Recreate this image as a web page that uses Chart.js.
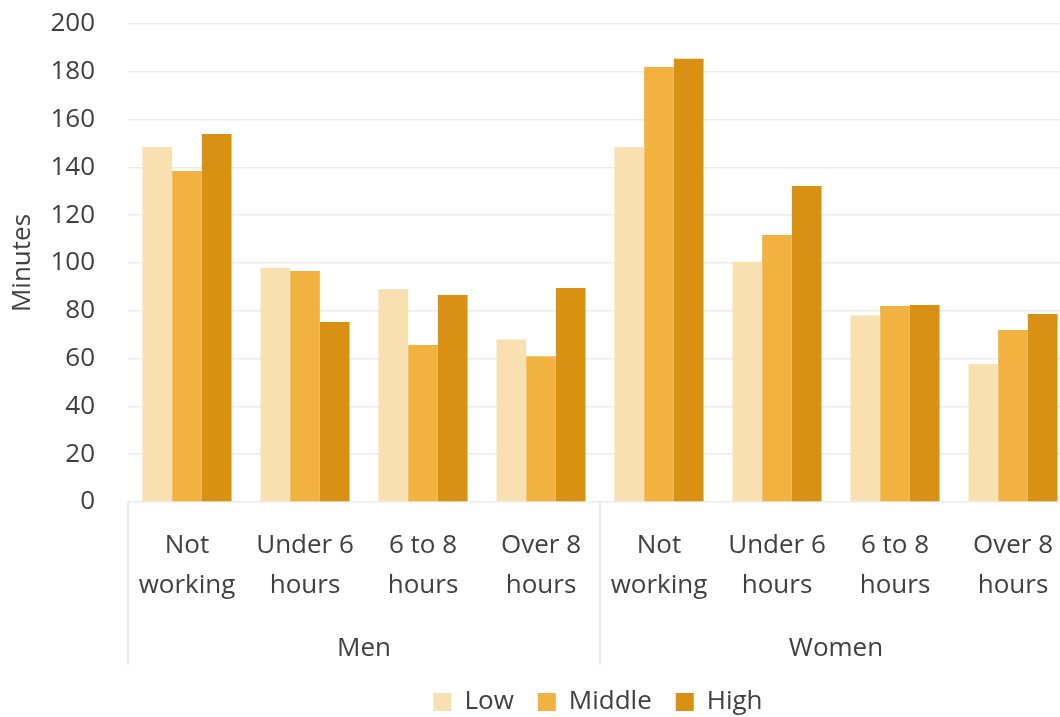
<!DOCTYPE html>
<html>
<head>
<meta charset="utf-8">
<script src="https://cdn.jsdelivr.net/npm/chart.js@4"></script>
<style>
  html, body { margin: 0; padding: 0; background: #fff; overflow: hidden; width: 1060px; height: 717px; }
  #wrap { position: absolute; left: 0; top: 0; }
</style>
</head>
<body>
<div id="wrap"><canvas id="chart" width="1196" height="725"></canvas></div>
<script>
// Chart data
const categories = [
    ['Not', 'working'], ['Under 6', 'hours'], ['6 to 8', 'hours'], ['Over 8', 'hours'],
    ['Not', 'working'], ['Under 6', 'hours'], ['6 to 8', 'hours'], ['Over 8', 'hours']
];
const groups = ['Men', 'Women'];
const seriesNames = ['Low', 'Middle', 'High'];
const low = [148.5, 98, 89, 68, 148.5, 100.5, 78, 57.7];
const middle = [138.5, 96.7, 65.7, 61, 182, 111.7, 82, 72];
const high = [154, 75.3, 86.6, 89.5, 185.5, 132.2, 82.4, 78.7];
const yTicks = [0, 20, 40, 60, 80, 100, 120, 140, 160, 180, 200];

const textColor = '#404040';
const fontSize = 26;
Chart.defaults.font.family = '"Open Sans", "Noto Sans", sans-serif';
Chart.defaults.color = textColor;

// Draws the vertical separators between the Men / Women groups
const groupLines = {
    id: 'groupLines',
    afterDraw(chart) {
        const x = chart.scales.x;
        const x2 = chart.scales.x2;
        const c = chart.ctx;
        const perGroup = categories.length / groups.length;
        const edges = [chart.chartArea.left];
        for (let g = 1; g < groups.length; g++) {
            edges.push((x.getPixelForValue(g * perGroup - 1) + x.getPixelForValue(g * perGroup)) / 2);
        }
        edges.push(chart.chartArea.right);
        c.save();
        c.strokeStyle = '#ececec';
        c.lineWidth = 2;
        edges.forEach(px => {
            c.beginPath();
            c.moveTo(px, chart.chartArea.bottom);
            c.lineTo(px, x2.bottom);
            c.stroke();
        });
        c.restore();
    }
};

const ctx = document.getElementById('chart').getContext('2d');
new Chart(ctx, {
    type: 'bar',
    data: {
        labels: categories,
        datasets: [
            { label: seriesNames[0], data: low, backgroundColor: '#F9E0B1' },
            { label: seriesNames[1], data: middle, backgroundColor: '#F1B240' },
            { label: seriesNames[2], data: high, backgroundColor: '#D89113' }
        ]
    },
    options: {
        responsive: false,
        animation: false,
        devicePixelRatio: 1,
        datasets: {
            bar: { categoryPercentage: 0.755, barPercentage: 1.0 }
        },
        layout: { padding: { top: 24, left: 0, right: 0, bottom: 0 } },
        scales: {
            x: {
                position: 'bottom',
                afterFit(scale) { scale.height = 102; },
                grid: { display: false, drawTicks: false },
                border: { display: false },
                ticks: {
                    autoSkip: false,
                    maxRotation: 0,
                    padding: 24,
                    font: { size: fontSize, lineHeight: 40 / fontSize },
                    color: textColor
                }
            },
            x2: {
                type: 'category',
                position: 'bottom',
                labels: groups,
                offset: true,
                afterFit(scale) { scale.height = 61; },
                grid: { display: false, drawTicks: false },
                border: { display: false },
                ticks: {
                    padding: 27,
                    font: { size: fontSize, lineHeight: 36 / fontSize },
                    color: textColor
                }
            },
            y: {
                min: 0,
                max: 200,
                afterFit(scale) {
                    scale.width = 128;
                    scale.paddingTop = 14;
                    scale.paddingBottom = 14;
                },
                afterBuildTicks(scale) { scale.ticks = yTicks.map(v => ({ value: v })); },
                grid: { color: '#ececec', lineWidth: 1.5, drawTicks: false },
                border: { display: false },
                ticks: {
                    padding: 33,
                    font: { size: fontSize },
                    color: textColor
                },
                title: {
                    display: true,
                    text: 'Minutes',
                    font: { size: fontSize },
                    color: textColor,
                    padding: { top: 7, bottom: 0 }
                }
            },
            yPad: {
                position: 'right',
                display: true,
                afterFit(scale) { scale.width = 124; },
                grid: { display: false },
                border: { display: false },
                ticks: { display: false }
            }
        },
        plugins: {
            legend: {
                position: 'bottom',
                labels: {
                    boxWidth: 18,
                    boxHeight: 18,
                    padding: 24,
                    font: { size: fontSize },
                    color: textColor
                }
            },
            tooltip: { enabled: false }
        }
    },
    plugins: [groupLines]
});
</script>
</body>
</html>
